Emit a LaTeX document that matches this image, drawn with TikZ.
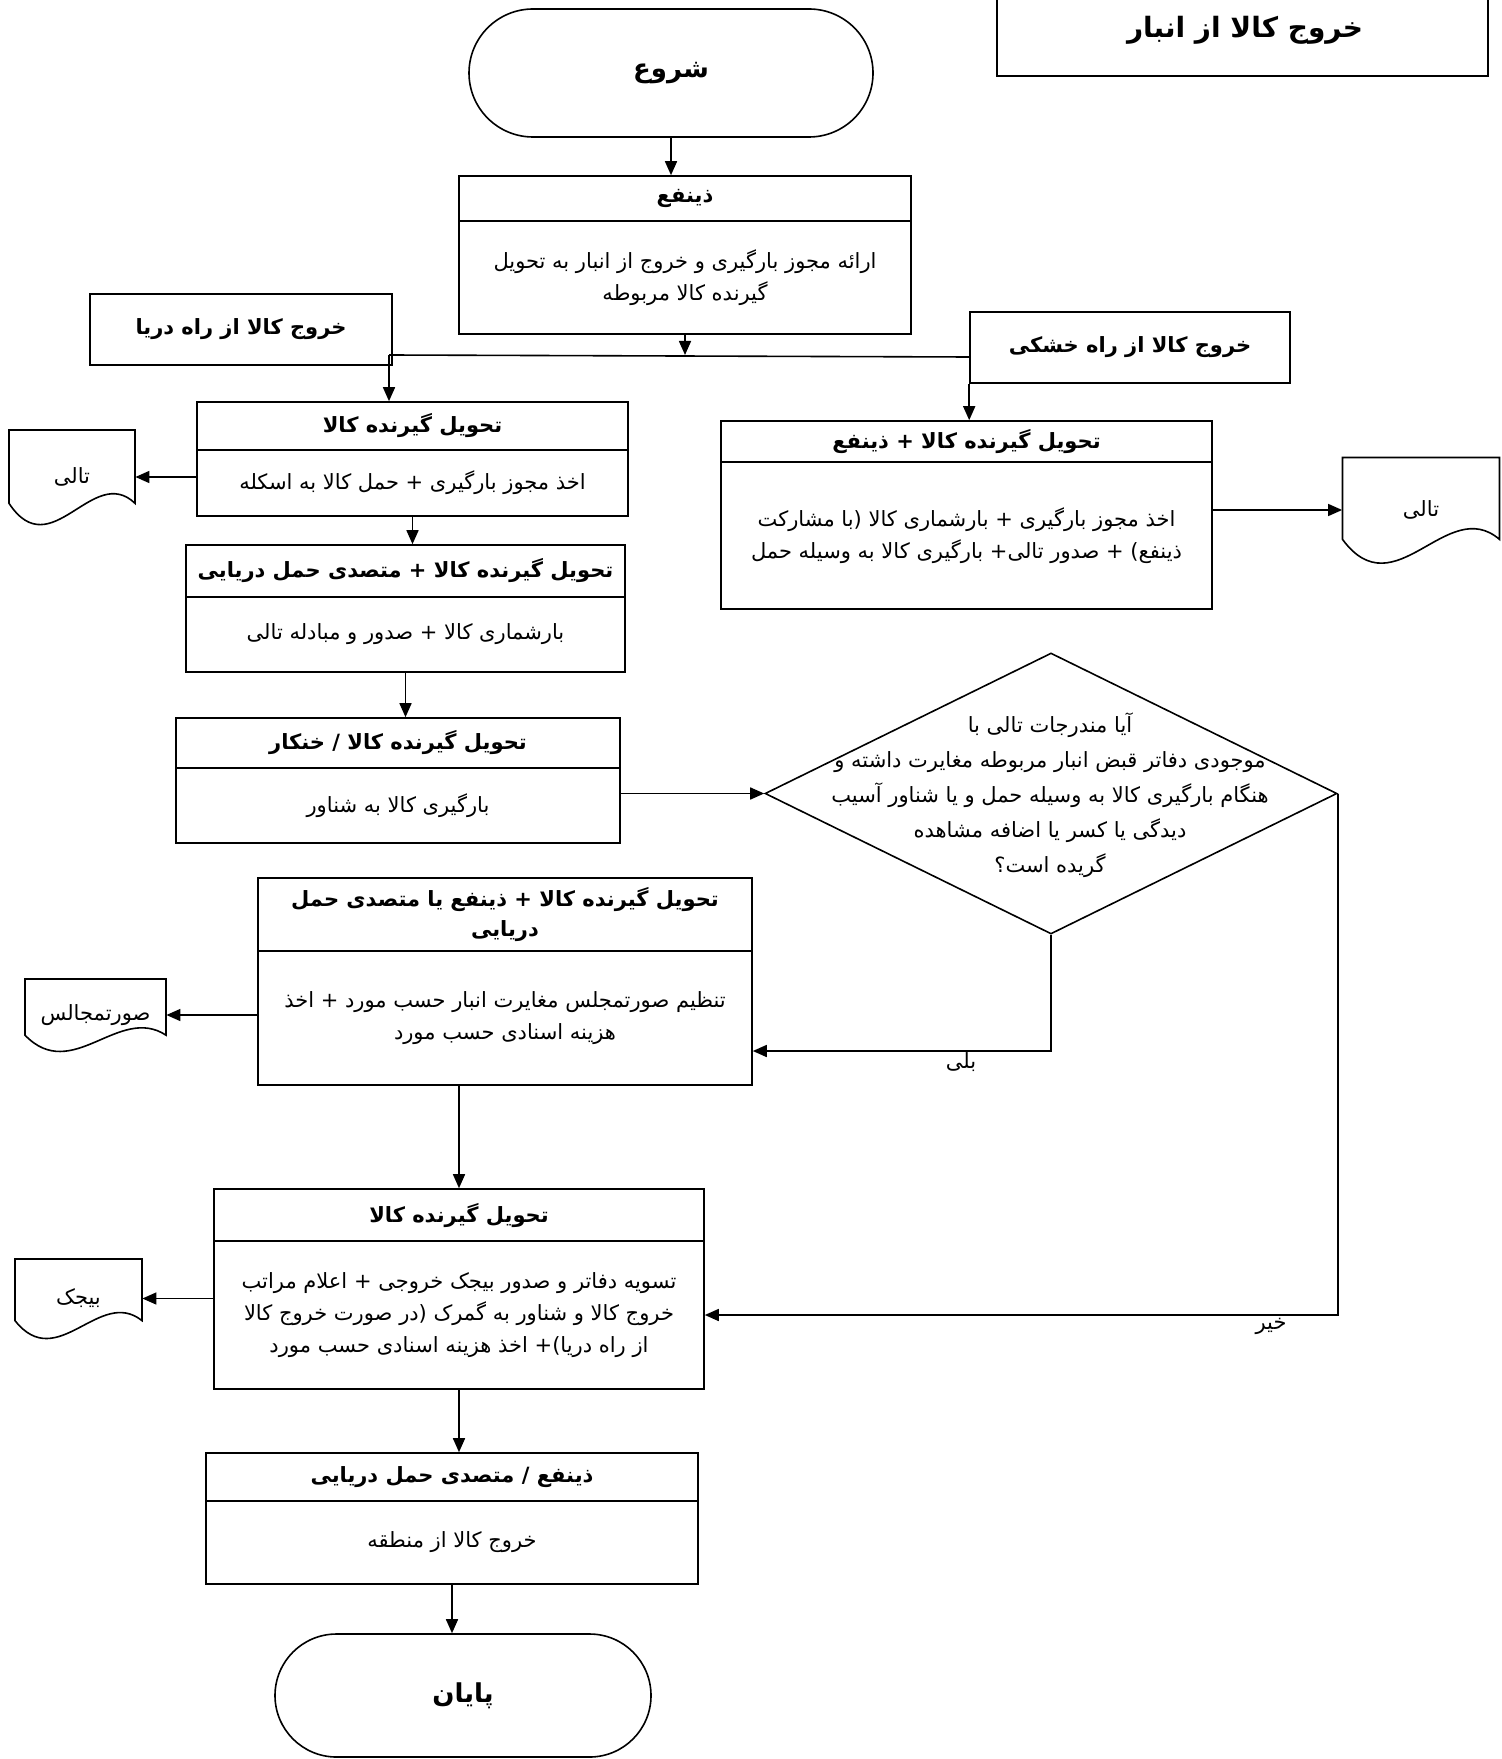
\documentclass[tikz,border=0pt]{standalone}
\usepackage{fontspec}
\newfontfamily\fa[Script=Arabic]{DejaVu Sans}
\TeXXeTstate=1
\usetikzlibrary{shapes.geometric,shapes.misc,arrows.meta,calc}
\newcommand\RL[1]{\beginR #1\endR}
\tikzset{
  ln/.style={line width=0.8pt},
  txt/.style={font=\fa\fontsize{10.5}{16}\selectfont, align=center},
  hdr/.style={draw, ln, fill=white, inner sep=0pt, align=center, font=\fa\bfseries\fontsize{10.5}{15}\selectfont},
  bdy/.style={draw, ln, fill=white, inner sep=0pt, align=center, font=\fa\fontsize{10.5}{16}\selectfont},
  arr/.style={ln, -{Triangle[length=7pt,width=6pt]}},
  term/.style={draw, ln, rounded rectangle, inner sep=0pt, font=\fa\bfseries\fontsize{13}{16}\selectfont},
  docn/.style={inner sep=0pt, font=\fa\fontsize{10.5}{16}\selectfont},
}
\newcommand\docshape[3]{\draw[ln,shift={(#1.center)}] (#2,0.56*#3) .. controls (0.33*#2,-0.3*#3) and (-0.33*#2,1.92*#3) .. (-#2,0.56*#3) -- (-#2,-#3) -- (#2,-#3) -- cycle;}
\begin{document}
\begin{tikzpicture}[x=0.5pt,y=-0.5pt]
\useasboundingbox (0,0) rectangle (1502,1759);
\fill[white] (0,0) rectangle (1502,1759);
% title
\node[draw, ln, minimum width=245.5pt, minimum height=68pt] (title) at (1242.5,8) {};
\node[font=\fa\bfseries\fontsize{14}{18}\selectfont] (titletext) at (1245,30) {\RL{خروج کالا از انبار}};
% start
\node[term, minimum width=202pt, minimum height=64pt] (start) at (671,73) {\RL{شروع}};
% box A
\node[hdr, minimum width=226pt, minimum height=22.5pt] (hdrA) at (685,198.5) {\RL{ذینفع}};
\node[bdy, minimum width=226pt, minimum height=56.5pt] (bodyA) at (685,277.5) {\RL{ارائه مجوز بارگیری و خروج از انبار به تحویل}\\\RL{گیرنده کالا مربوطه}};
% route boxes
\node[draw, ln, inner sep=0pt, font=\fa\bfseries\fontsize{10.5}{15}\selectfont, minimum width=151pt, minimum height=35.5pt] (sea) at (241,329.5) {\RL{خروج کالا از راه دریا}};
\node[draw, ln, inner sep=0pt, font=\fa\bfseries\fontsize{10.5}{15}\selectfont, minimum width=160pt, minimum height=35.5pt] (land) at (1130,347.5) {\RL{خروج کالا از راه خشکی}};
% left chain
\node[hdr, minimum width=215.5pt, minimum height=24pt] (hdrL1) at (412.5,426) {\RL{تحویل گیرنده کالا}};
\node[bdy, minimum width=215.5pt, minimum height=33pt] (bodyL1) at (412.5,483) {\RL{اخذ مجوز بارگیری + حمل کالا به اسکله}};
\node[hdr, minimum width=219.5pt, minimum height=26pt] (hdrL2) at (405.5,571) {\RL{تحویل گیرنده کالا + متصدی حمل دریایی}};
\node[bdy, minimum width=219.5pt, minimum height=37.5pt] (bodyL2) at (405.5,634.5) {\RL{بارشماری کالا + صدور و مبادله تالی}};
\node[hdr, minimum width=222pt, minimum height=25pt] (hdrL3) at (398,743) {\RL{تحویل گیرنده کالا / خنکار}};
\node[bdy, minimum width=222pt, minimum height=37.5pt] (bodyL3) at (398,805.5) {\RL{بارگیری کالا به شناور}};
% right box
\node[hdr, minimum width=245.5pt, minimum height=20.5pt] (hdrR) at (966.5,441.5) {\RL{تحویل گیرنده کالا + ذینفع}};
\node[bdy, minimum width=245.5pt, minimum height=73.5pt] (bodyR) at (966.5,535.5) {\RL{اخذ مجوز بارگیری + بارشماری کالا (با مشارکت}\\\RL{ذینفع) + صدور تالی+ بارگیری کالا به وسیله حمل}};
% decision
\node[draw, ln, diamond, inner sep=0pt, minimum width=286pt, minimum height=140.5pt] (dia) at (1051,793.5) {};
\node[txt, font=\fa\fontsize{10.5}{17.5}\selectfont] (diatext) at (1050,795) {\RL{آیا مندرجات تالی با}\\\RL{موجودی دفاتر قبض انبار مربوطه مغایرت داشته و}\\\RL{هنگام بارگیری کالا به وسیله حمل و یا شناور آسیب}\\\RL{دیدگی یا کسر یا اضافه مشاهده}\\\RL{گریده است؟}};
% box 4
\node[hdr, minimum width=247pt, minimum height=36.5pt] (hdr4) at (505,914.5) {\RL{تحویل گیرنده کالا + ذینفع یا متصدی حمل}\\\RL{دریایی}};
\node[bdy, minimum width=247pt, minimum height=67pt] (body4) at (505,1018) {\RL{تنظیم صورتمجلس مغایرت انبار حسب مورد + اخذ}\\\RL{هزینه اسنادی حسب مورد}};
% box 5
\node[hdr, minimum width=245pt, minimum height=26pt] (hdr5) at (459,1215) {\RL{تحویل گیرنده کالا}};
\node[bdy, minimum width=245pt, minimum height=74pt] (body5) at (459,1315) {\RL{تسویه دفاتر و صدور بیجک خروجی + اعلام مراتب}\\\RL{خروج کالا و شناور به گمرک (در صورت خروج کالا}\\\RL{از راه دریا)+ اخذ هزینه اسنادی حسب مورد}};
% box 6
\node[hdr, minimum width=246pt, minimum height=24pt] (hdr6) at (452,1477) {\RL{ذینفع / متصدی حمل دریایی}};
\node[bdy, minimum width=246pt, minimum height=41.5pt] (body6) at (452,1542.5) {\RL{خروج کالا از منطقه}};
% end
\node[term, minimum width=188pt, minimum height=61.5pt] (end) at (463,1695.5) {\RL{پایان}};
% documents
\node[docn, minimum width=63pt, minimum height=47pt] (tL) at (72,477) {\RL{تالی}};
\docshape{tL}{63}{47}
\node[docn, minimum width=78.5pt, minimum height=52.5pt] (tR) at (1421,510) {\RL{تالی}};
\docshape{tR}{78.5}{52.5}
\node[docn, minimum width=70.5pt, minimum height=36pt] (sm) at (95.5,1015) {\RL{صورتمجالس}};
\docshape{sm}{70.5}{36}
\node[docn, minimum width=63.5pt, minimum height=39.5pt] (bj) at (78.5,1298.5) {\RL{بیجک}};
\docshape{bj}{63.5}{39.5}
% connectors
\coordinate (jL) at (389,355);
\coordinate (jR) at (970,357);
\coordinate (yesc) at (1048,1051);
\coordinate (noc) at (1337,1315);
\draw[arr] (start.south) -- (start.south |- hdrA.north);
\draw[arr] (bodyA.south) -- (bodyA.south |- jL);
\draw[ln] (jL) -- (jR);
\draw[arr] (jL) -- (jL |- hdrL1.north);
\draw[arr] (land.south west) -- (land.south west |- hdrR.north);
\draw[arr] (bodyL1.west |- tL.east) -- (tL.east);
\draw[arr] (bodyL1.south) -- (bodyL1.south |- hdrL2.north);
\draw[arr] (bodyL2.south) -- (bodyL2.south |- hdrL3.north);
\draw[arr] (bodyL3.east |- dia.west) -- (dia.west);
\draw[arr] (bodyR.east |- tR.west) -- (tR.west);
\draw[arr] (dia.south) -- (dia.south |- yesc) -- (yesc -| body4.east);
\node[txt] (yes) at (961,1062) {\RL{بلی}};
\draw[arr] (dia.east) -- (dia.east |- noc) -- (noc -| body5.east);
\node[txt] (no) at (1271,1326) {\RL{خیر}};
\draw[arr] (body4.west |- sm.east) -- (sm.east);
\draw[arr] (body4.south -| hdr5.north) -- (hdr5.north);
\draw[arr] (body5.west |- bj.east) -- (bj.east);
\draw[arr] (body5.south) -- (body5.south |- hdr6.north);
\draw[arr] (body6.south) -- (body6.south |- end.north);
\end{tikzpicture}
\end{document}
